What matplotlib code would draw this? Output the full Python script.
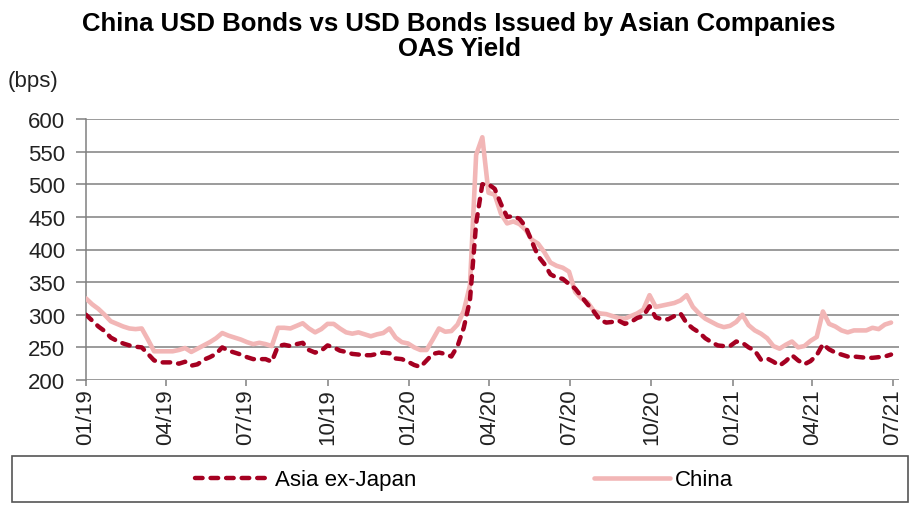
import numpy as np
import pandas as pd
import matplotlib
matplotlib.use('Agg')
import matplotlib.pyplot as plt
import matplotlib.dates as mdates
from matplotlib.patches import Rectangle

plt.rcParams['font.family'] = ['Liberation Sans', 'DejaVu Sans']

# weekly observations, 01/2019 - 07/2021 (bps)
dates = pd.date_range('2019-01-01', '2021-07-01', freq='7D')

asia = [300, 291, 282, 275, 265, 260, 256, 253, 251, 250,
        240, 230, 227, 227, 227, 225, 228, 222, 224, 231,
        235, 240, 250, 245, 242, 239, 235, 232, 232, 232,
        228, 252, 254, 252, 255, 257, 246, 242, 245, 253,
        250, 245, 243, 240, 239, 238, 238, 240, 242, 241,
        233, 232, 228, 223, 220, 230, 240, 242, 240, 236,
        252, 280, 322, 440, 500, 500, 493, 470, 450, 451,
        447, 435, 412, 390, 378, 362, 357, 355, 347, 340,
        328, 316, 305, 292, 288, 289, 291, 286, 289, 295,
        298, 313, 296, 293, 293, 298, 302, 287, 279, 273,
        264, 258, 253, 252, 252, 259, 257, 250, 245, 231,
        233, 228, 222, 229, 238, 230, 224, 229, 238, 255,
        247, 242, 239, 236, 236, 235, 234, 234, 235, 236,
        239]

china = [325, 316, 309, 300, 290, 286, 282, 279, 278, 279,
         262, 244, 244, 244, 244, 246, 249, 243, 248, 253,
         258, 264, 272, 268, 265, 262, 258, 255, 257, 255,
         252, 280, 280, 279, 283, 287, 279, 273, 278, 286,
         286, 279, 273, 271, 273, 270, 267, 270, 272, 279,
         265, 258, 256, 250, 246, 246, 262, 279, 274, 275,
         285, 306, 345, 545, 572, 487, 484, 455, 440, 443,
         439, 430, 415, 409, 396, 380, 375, 372, 366, 335,
         325, 319, 306, 302, 301, 298, 295, 294, 298, 302,
         308, 330, 312, 314, 316, 318, 322, 330, 312, 302,
         294, 289, 284, 281, 283, 289, 300, 284, 276, 271,
         264, 252, 248, 254, 259, 250, 252, 260, 266, 305,
         286, 282, 276, 273, 276, 276, 276, 280, 278, 285,
         288]

tick_dates = pd.date_range('2019-01-01', '2021-07-01', freq='3MS')
yticks = np.arange(200, 601, 50)

fig = plt.figure(figsize=(9.18, 5.06), dpi=100)
ax = fig.add_axes([86 / 918, 1 - 381 / 506, (899 - 86) / 918, (381 - 120) / 506])

ax.plot(dates, china, color='#F2B6B6', lw=3.3, label='China', zorder=3,
        solid_capstyle='round', solid_joinstyle='round')
ax.plot(dates, asia, color='#A50021', lw=3.2, dashes=(1.7, 1.8),
        dash_capstyle='round', dash_joinstyle='round',
        label='Asia ex-Japan', zorder=4)

ax.set_ylim(200, 600)
ax.set_yticks(yticks)
ax.set_xlim(pd.Timestamp('2019-01-01'), pd.Timestamp('2021-07-08'))
ax.set_xticks(tick_dates)
ax.xaxis.set_major_formatter(mdates.DateFormatter('%m/%y'))

ax.grid(axis='y', color='#808080', lw=1.1, zorder=1)
for s in ['top', 'right', 'bottom']:
    ax.spines[s].set_visible(False)
ax.spines['left'].set_color('#808080')
ax.spines['left'].set_linewidth(1.1)

ax.tick_params(axis='y', length=7, width=1.1, color='#808080', pad=8,
               labelsize=16, labelcolor='#222222')
ax.tick_params(axis='x', length=4, width=1.1, color='#808080', pad=2,
               labelsize=16, labelcolor='#222222', labelrotation=90)

fig.text(0.5, 1 - 31 / 506, 'China USD Bonds vs USD Bonds Issued by Asian Companies',
         ha='center', va='baseline', fontsize=18.5, weight='bold')
fig.text(0.5, 1 - 56 / 506, 'OAS Yield', ha='center', va='baseline',
         fontsize=18.5, weight='bold')
fig.text(8 / 918, 1 - 82 / 506, '(bps)', ha='left', va='center',
         fontsize=16, color='#222222')

# legend box
fig.patches.append(Rectangle((12 / 918, 1 - 503 / 506), 896 / 918, 46 / 506,
                             transform=fig.transFigure, fill=False,
                             edgecolor='#555555', lw=1.2))
h, l = ax.get_legend_handles_labels()
fig.legend(h[::-1], l[::-1], loc='center', bbox_to_anchor=(464 / 918, 1 - 481 / 506),
           ncol=2, frameon=False, fontsize=16, handlelength=3.4,
           handletextpad=0.2, columnspacing=8.0)

fig.savefig('out.png', dpi=100)
